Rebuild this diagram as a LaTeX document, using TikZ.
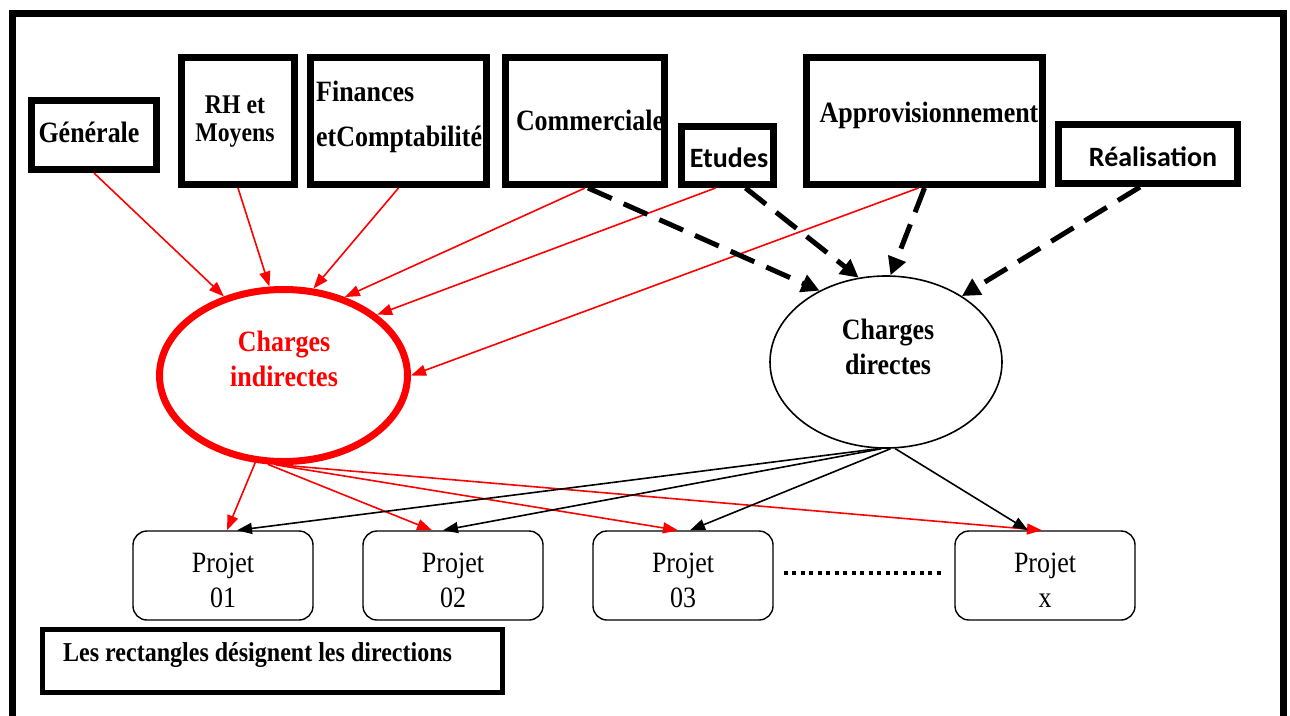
\documentclass[tikz,border=0pt]{standalone}
\usepackage{fontspec}
\setmainfont{Liberation Serif}[FakeStretch=0.88]
\newfontfamily\calib{Carlito}
\usetikzlibrary{shapes.geometric,arrows.meta,calc}
\newcommand{\projtext}[1]{\parbox{170pt}{\centering\vspace*{10pt}Projet\\#1}}
\begin{document}
\begin{tikzpicture}[x=1pt,y=-1pt,
  dirbox/.style={draw, line width=7pt, inner sep=0pt},
  txt/.style={inner sep=0pt, font=\fontsize{29.5}{34}\selectfont\bfseries},
  ctxt/.style={inner sep=0pt, font=\calib\fontsize{28}{32}\selectfont\bfseries},
  proj/.style={draw, line width=1.4pt, rounded corners=14pt, minimum width=180, minimum height=89, inner sep=0pt, font=\fontsize{29.5}{35}\selectfont},
  tipA/.style={-{Triangle[length=15pt,width=11pt]}},
  redarr/.style={draw=red, line width=1.6pt, tipA},
  blkarr/.style={draw=black, line width=1.6pt, tipA},
  dasharr/.style={draw=black, line width=5pt, dash pattern=on 26pt off 13pt, -{Triangle[length=18pt,width=18pt]}}
]
\useasboundingbox (0,0) rectangle (1290,715);
\clip (0,0) rectangle (1290,715);
% outer frame
\draw[line width=7pt] (12.5,13.5) rectangle (1283.5,760);

% direction boxes
\node[dirbox, minimum width=125, minimum height=69] (gen) at (94,135) {};
\node[dirbox, minimum width=113, minimum height=127] (rh) at (238,121) {};
\node[dirbox, minimum width=176, minimum height=127] (fin) at (398.5,121) {};
\node[dirbox, minimum width=159, minimum height=127] (com) at (585,121) {};
\node[dirbox, minimum width=92, minimum height=58] (etu) at (727.5,155.5) {};
\node[dirbox, minimum width=236, minimum height=127] (app) at (924.5,121) {};
\node[dirbox, minimum width=179, minimum height=59] (rea) at (1148,154) {};

% texts of boxes
\node[txt] (genT) at (89,132) {Générale};
\node[txt, font=\fontsize{27}{28}\selectfont\bfseries, align=center] (rhT) at (235,122) {RH et\\Moyens};
\node[txt, anchor=west] (finT1) at (316,91) {Finances};
\node[txt, anchor=west] (finT2) at (316,139) {etComptabilité};
\node[txt] (comT) at (590,120) {Commerciale};
\node[ctxt] (etuT) at (729,158) {Etudes};
\node[txt] (appT) at (929,115) {Approvisionnement};
\node[ctxt] (reaT) at (1153,157) {Réalisation};

% ellipses
\node[ellipse, draw=red, line width=7pt, minimum width=248, minimum height=172, inner sep=0pt] (ind) at (283.5,375.5) {};
\node[txt, text=red, align=center, font=\fontsize{29.5}{35}\selectfont\bfseries] (indT) at (284,359) {Charges\\indirectes};
\node[ellipse, draw, line width=1.6pt, minimum width=232, minimum height=172, inner sep=0pt] (dir) at (886,362) {};
\node[txt, align=center, font=\fontsize{29.5}{35}\selectfont\bfseries] (dirT) at (888,347) {Charges\\directes};

% projects
\node[proj] (p1) at (223,575.5) {\projtext{01}};
\node[proj] (p2) at (453,575.5) {\projtext{02}};
\node[proj] (p3) at (683,575.5) {\projtext{03}};
\node[proj] (px) at (1045,575.5) {\projtext{x}};
\draw[line width=4pt, dash pattern=on 4pt off 4.5pt, shorten <=10pt, shorten >=10pt] ($(p3.east)+(0,-3)$) -- ($(px.west)+(0,-3)$);

% legend
\node[draw, line width=5pt, minimum width=460, minimum height=63, inner sep=0pt] (leg) at (272.5,661) {};
\node[anchor=west, inner sep=0pt, font=\fontsize{27.3}{30}\selectfont\bfseries] (legT) at (63,655) {Les rectangles désignent les directions};

% red arrows to indirect charges
\draw[redarr] (gen.south) -- (ind.127);
\draw[redarr] (rh.south) -- (ind.99);
\draw[redarr] (fin.south) -- (ind.71);
\draw[redarr] (com.south) -- (ind.52);
\draw[redarr] ($(etu.south)+(-12,0)$) -- (ind.33);
\draw[redarr] ($(app.south)+(-6,0)$) -- (ind.0);

% dashed arrows to direct charges
\draw[dasharr] ($(com.south)+(3,0)$) -- (dir.133);
\draw[dasharr] ($(etu.south)+(18,0)$) -- (dir.108);
\draw[dasharr] (app.south) -- (dir.87);
\draw[dasharr] ($(rea.south)+(-8,0)$) -- (dir.41);

% to projects
\draw[redarr] (ind.-108) -- ($(p1.north)+(4,0)$);
\draw[redarr] (ind.-100) -- ($(p2.north)+(-21,0)$);
\draw[redarr] (ind.-95) -- ($(p3.north)+(-5,0)$);
\draw[redarr] (ind.-92) -- ($(px.north)+(-3,0)$);
\draw[blkarr] (dir.-95) -- ($(p1.north)+(14,0)$);
\draw[blkarr] (dir.-93) -- ($(p2.north)+(-10,0)$);
\draw[blkarr] (dir.-87) -- ($(p3.north)+(7,0)$);
\draw[blkarr] (dir.-84) -- ($(px.north)+(-17,0)$);
\end{tikzpicture}
\end{document}
